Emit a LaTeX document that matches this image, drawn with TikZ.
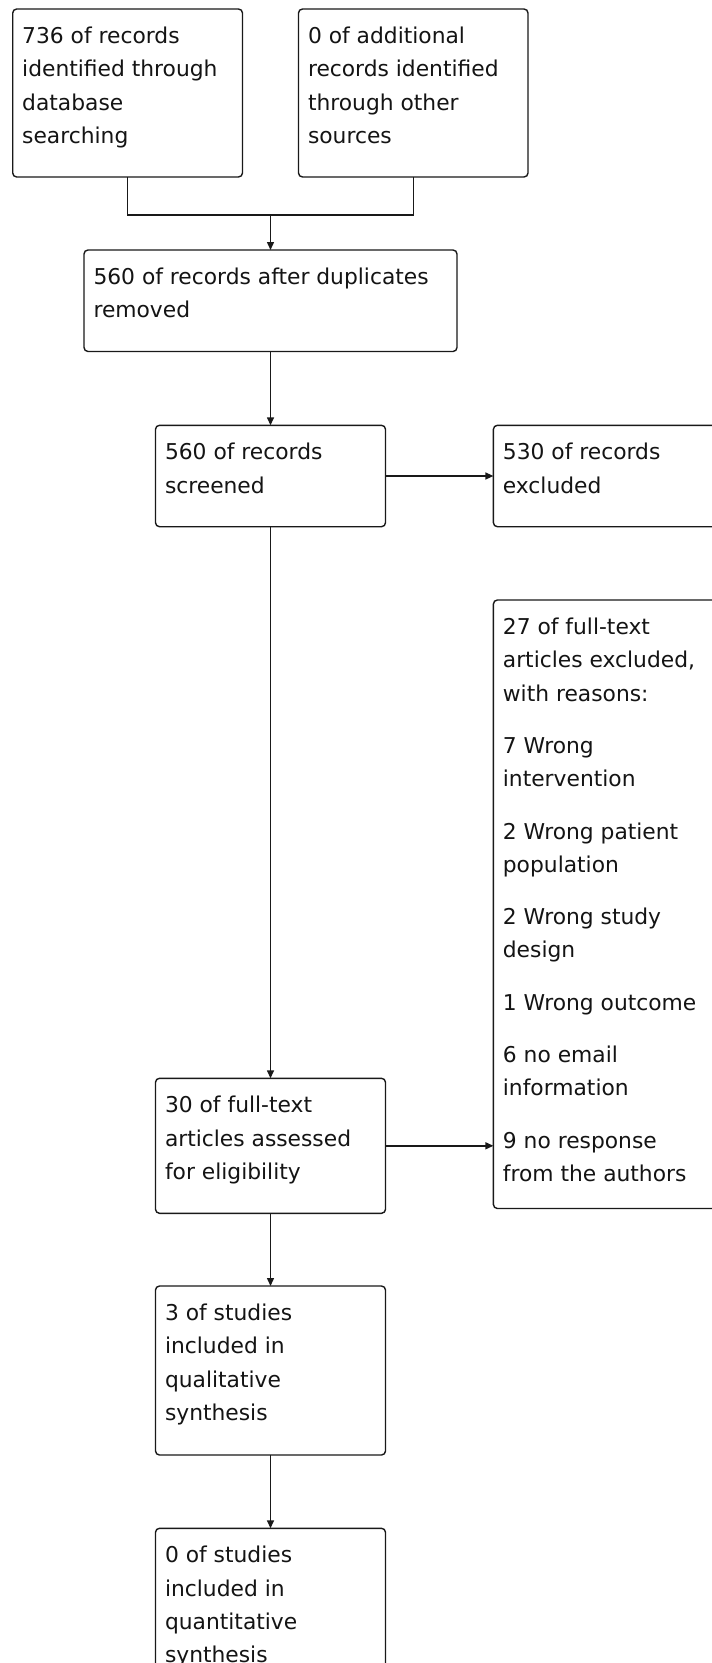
\documentclass[tikz,border=0pt]{standalone}
\usepackage{fontspec}
\setmainfont{DejaVu Sans}
\usetikzlibrary{arrows.meta}
\newcommand\prismabox[3]{\parbox[c][#2pt][t]{#1pt}{\raggedright\leftskip=9.5pt\relax\parskip=19pt\relax\baselineskip=33.3pt\relax\rule{0pt}{34.5pt}#3}}
\tikzset{
  pbox/.style={draw=black!90, line width=1.4pt, rounded corners=4pt, inner sep=0pt, outer sep=0pt, anchor=north west, fill=white, text=black!92, font=\fontsize{21.8}{33.3}\selectfont},
  conn/.style={draw=black!90, line width=1.4pt},
  arr/.style={conn, -{Triangle[length=8pt,width=7pt]}}
}
\begin{document}
\begin{tikzpicture}[x=1pt,y=-1pt]
\useasboundingbox (0,0) rectangle (712,1663);
\fill[white] (0,0) rectangle (712,1663);
\clip (0,0) rectangle (712,1663);

\node[pbox] (b1) at (12.7,9) {\prismabox{229.8}{168}{736 of records\\identified through\\database\\searching}};
\node[pbox] (b2) at (298.5,9) {\prismabox{229.5}{168}{0 of additional\\records identified\\through other\\sources}};
\node[pbox] (b3) at (84,250) {\prismabox{373}{101.5}{560 of records after duplicates\\removed}};
\node[pbox] (b4) at (155.5,425.3) {\prismabox{230}{101.4}{560 of records\\screened}};
\node[pbox] (b5) at (493.4,425.3) {\prismabox{230}{101.4}{530 of records\\excluded}};
\node[pbox] (b9) at (493.4,600) {\prismabox{230}{608.5}{27 of full-text\\articles excluded,\\with reasons:\par 7 Wrong\\intervention\par 2 Wrong patient\\population\par 2 Wrong study\\design\par 1 Wrong outcome\par 6 no email\\information\par 9 no response\\from the authors}};
\node[pbox] (b6) at (155.5,1078.3) {\prismabox{230}{135}{30 of full-text\\articles assessed\\for eligibility}};
\node[pbox] (b7) at (155.5,1286) {\prismabox{230}{169}{3 of studies\\included in\\qualitative\\synthesis}};
\node[pbox] (b8) at (155.5,1528.3) {\prismabox{230}{169}{0 of studies\\included in\\quantitative\\synthesis}};

\coordinate (m) at (b4.north |- 0,215);
\draw[conn] (b1.south) |- (m) -| (b2.south);
\draw[arr] (m) -- (m |- b3.north);
\draw[arr] (b4.north |- b3.south) -- (b4.north);
\draw[arr] (b4.east) -- (b5.west);
\draw[arr] (b4.south) -- (b6.north);
\draw[arr] (b6.east) -- (b6.east -| b9.west);
\draw[arr] (b6.south) -- (b7.north);
\draw[arr] (b7.south) -- (b8.north);
\end{tikzpicture}
\end{document}
